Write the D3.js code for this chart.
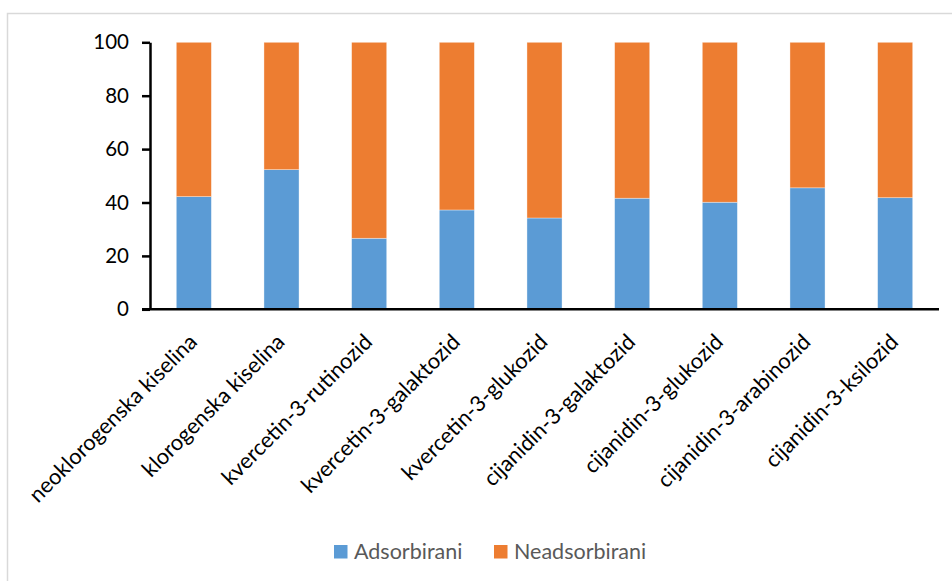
<!DOCTYPE html>
<html><head><meta charset="utf-8">
<script src="https://cdn.jsdelivr.net/npm/d3@7"></script>
<style>body{margin:0;background:#fff}svg{display:block}</style>
</head><body>
<svg id="c" width="952" height="581"></svg>
<script>
const categories = ["neoklorogenska kiselina","klorogenska kiselina","kvercetin-3-rutinozid","kvercetin-3-galaktozid","kvercetin-3-glukozid","cijanidin-3-galaktozid","cijanidin-3-glukozid","cijanidin-3-arabinozid","cijanidin-3-ksilozid"];
const adsorbirani = [42.2, 52.3, 26.6, 37.2, 34.2, 41.6, 40.1, 45.5, 41.8];
const neadsorbirani = adsorbirani.map(v => 100 - v);
const seriesNames = ["Adsorbirani","Neadsorbirani"];
const yTicks = [0,20,40,60,80,100];
const colors = ["#5B9BD5","#ED7D31"];

const svg = d3.select("#c");
const font = "Lato, 'Open Sans', sans-serif";
svg.append("rect").attr("x",7.5).attr("y",13.5).attr("width",960).attr("height",600)
  .attr("fill","#fff").attr("stroke","#d9d9d9").attr("stroke-width",1.5);

const pLeft = 150, pRight = 939, pTop = 42.3, pBottom = 309.3;
const x = d3.scaleBand().domain(categories).range([pLeft,pRight]).paddingInner(0.6).paddingOuter(0.3);
const y = d3.scaleLinear().domain([0,100]).range([pBottom, pTop]);

const table = categories.map((c,i)=>({cat:c, Adsorbirani:adsorbirani[i], Neadsorbirani:neadsorbirani[i]}));
const stack = d3.stack().keys(seriesNames)(table);

svg.append("g").selectAll("g").data(stack).join("g")
  .attr("fill",(d,i)=>colors[i])
  .selectAll("rect").data(d=>d).join("rect")
  .attr("x",d=>x(d.data.cat)).attr("width",x.bandwidth())
  .attr("y",d=>y(d[1])).attr("height",d=>y(d[0])-y(d[1]))
  .attr("stroke","rgba(255,255,255,0.5)").attr("stroke-width",0.7);

const ya = svg.append("g").attr("transform",`translate(${pLeft},0)`)
  .call(d3.axisLeft(y).tickValues(yTicks).tickSize(8).tickSizeOuter(0).tickPadding(13));
ya.select(".domain").attr("stroke","#000").attr("stroke-width",2.5);
ya.selectAll(".tick line").attr("stroke","#000").attr("stroke-width",2.5);
ya.selectAll("text").attr("font-family",font).attr("font-size",20.5).attr("fill","#000");

const xa = svg.append("g").attr("transform",`translate(0,${pBottom})`)
  .call(d3.axisBottom(x).tickSize(0).tickSizeOuter(0));
xa.select(".domain").attr("stroke","#000").attr("stroke-width",2.5).attr("d",`M${pLeft-8},0H${pRight}`);
xa.selectAll("text").attr("font-family",font).attr("font-size",21.8).attr("fill","#000")
  .attr("text-anchor","end").attr("dy",0).attr("y",0)
  .attr("transform","translate(4.5,34) rotate(-45)");

const legend = svg.append("g").attr("font-family",font).attr("font-size",21.5).attr("fill","#595959");
const lx = [334, 494];
seriesNames.forEach((n,i)=>{
  legend.append("rect").attr("x",lx[i]).attr("y",545).attr("width",13.5).attr("height",13.5).attr("fill",colors[i]);
  legend.append("text").attr("x",lx[i]+20).attr("y",558.5).text(n);
});
</script>
</body></html>
